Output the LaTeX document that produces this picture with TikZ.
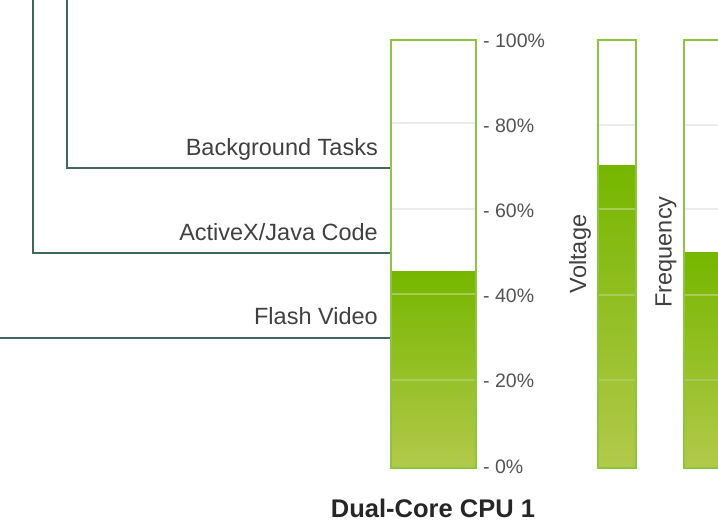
\documentclass[tikz,border=0pt]{standalone}
\usepackage{fontspec}
\setmainfont{Liberation Sans}
\definecolor{barEdge}{HTML}{8CC63F}
\definecolor{greenTop}{HTML}{76B600}
\definecolor{greenBot}{HTML}{B2C94A}
\definecolor{wire}{HTML}{42675A}
\definecolor{txt}{HTML}{404040}
\definecolor{gridW}{HTML}{EBEBEB}
\definecolor{gridG}{HTML}{A6CC55}
\tikzset{
  wireline/.style={draw=wire, line width=2.6pt},
  baredge/.style={draw=barEdge, line width=2.4pt},
  lbl/.style={text=txt, font=\fontsize{23.5}{26}\selectfont, inner sep=0pt, anchor=base east},
  tick/.style={text=txt!90, font=\fontsize{19.5}{22}\selectfont, inner sep=0pt, anchor=base west},
  axislbl/.style={text=txt, font=\fontsize{23.5}{26}\selectfont, inner sep=0pt, rotate=90},
  fillg/.style={top color=greenTop, bottom color=greenBot, draw=none},
}
\begin{document}
\begin{tikzpicture}[x=1pt,y=-1pt]
\useasboundingbox (0,0) rectangle (718,529);
\clip (0,0) rectangle (718,529);

% CPU load bar
\fill[fillg] (390,272) rectangle (475,467);
\foreach \y in {123,209} \draw[gridW, line width=1.5pt] (390,\y) -- (475,\y);
\foreach \y in {294,380} \draw[gridG, line width=1.2pt] (390,\y) -- (475,\y);
\node[baredge, minimum width=85pt, minimum height=428pt, anchor=north west, inner sep=0pt] (cpu) at (390,39) {};

% voltage bar
\fill[fillg] (597,166) rectangle (635,467);
\draw[gridW, line width=1.5pt] (597,125) -- (635,125);
\foreach \y in {209,295,380} \draw[gridG, line width=1.2pt] (597,\y) -- (635,\y);
\node[baredge, minimum width=38pt, minimum height=428pt, anchor=north west, inner sep=0pt] (volt) at (597,39) {};

% frequency bar
\fill[fillg] (683,253) rectangle (740,467);
\foreach \y in {125,209} \draw[gridW, line width=1.5pt] (683,\y) -- (740,\y);
\foreach \y in {295,380} \draw[gridG, line width=1.2pt] (683,\y) -- (740,\y);
\node[baredge, minimum width=57pt, minimum height=428pt, anchor=north west, inner sep=0pt] (freq) at (683,39) {};

% scale
\node[tick] (t100) at (483,48) {- 100\%};
\node[tick] (t80)  at (483,133) {- 80\%};
\node[tick] (t60)  at (483,218) {- 60\%};
\node[tick] (t40)  at (483,303) {- 40\%};
\node[tick] (t20)  at (483,388) {- 20\%};
\node[tick] (t0)   at (483,473) {- 0\%};

\node[axislbl] (vl) at (580,254) {Voltage};
\node[axislbl] (fl) at (666,252) {Frequency};

% task labels
\node[lbl] (bg) at (378,156) {Background Tasks};
\node[lbl] (ax) at (378,241) {ActiveX/Java Code};
\node[lbl] (fv) at (378,325) {Flash Video};

\node[text=black!85, font=\bfseries\fontsize{25.5}{28}\selectfont, inner sep=0pt, anchor=base] (title) at (433,517) {Dual-Core CPU 1};

% connectors
\coordinate (bgTop) at (67,-5);
\coordinate (axTop) at (33,-5);
\coordinate (fvEnd) at (-5,338);
\draw[wireline] (bgTop) |- (cpu.west |- 0,168);
\draw[wireline] (axTop) |- (cpu.west |- 0,253);
\draw[wireline] (fvEnd) -- (cpu.west |- 0,338);
\end{tikzpicture}
\end{document}
